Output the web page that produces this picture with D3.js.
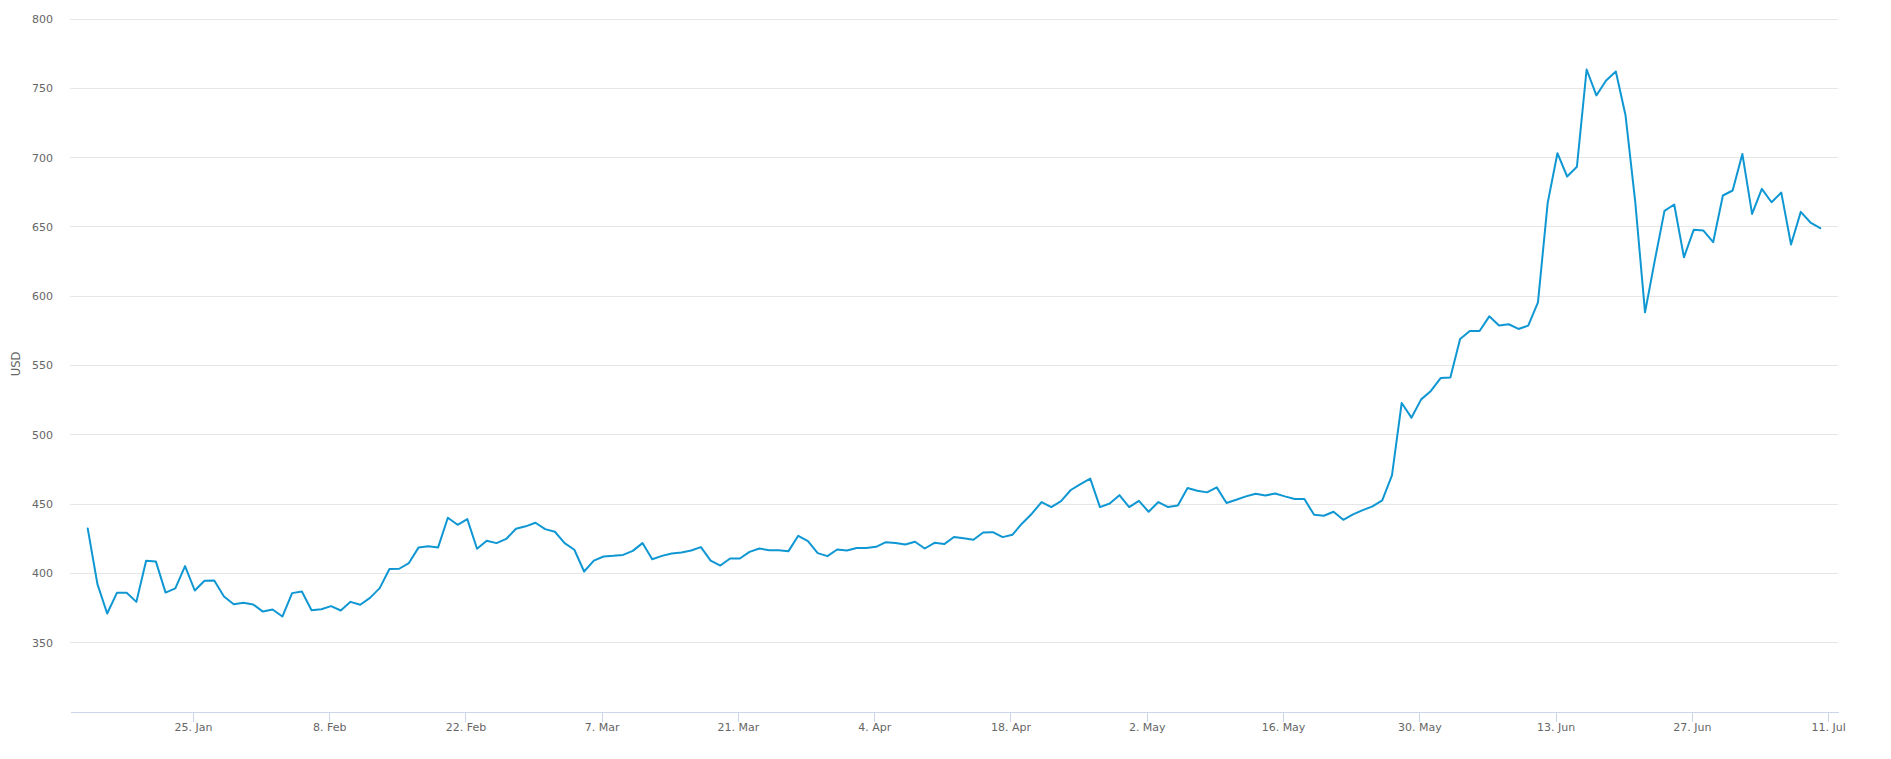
<!DOCTYPE html>
<html>
<head>
<meta charset="utf-8">
<script src="https://cdn.jsdelivr.net/npm/d3@7"></script>
<style>
  html, body { margin: 0; padding: 0; background: #fff; }
  svg { display: block; }
  text { font-family: "DejaVu Sans", Verdana, sans-serif; }
</style>
</head>
<body>
<svg id="chart" width="1891" height="759"></svg>
<script>
// ---- data ----
const seriesStart = "2016-01-14T04:40:00Z";   // first daily observation
const prices = [
  432.1, 391.9, 370.7, 385.6, 385.6, 379.1, 408.7, 408.3, 385.8, 388.8,
  404.9, 387.3, 394.3, 394.5, 383.0, 377.4, 378.4, 377.2, 372.1, 373.6,
  368.5, 385.4, 386.6, 373.1, 373.8, 376.0, 372.9, 379.1, 377.0, 382.0,
  389.0, 402.8, 403.0, 407.1, 418.4, 419.3, 418.4, 439.8, 434.7, 438.8,
  417.4, 423.2, 421.5, 424.5, 431.9, 433.6, 436.2, 431.6, 429.7, 421.5,
  416.7, 401.0, 408.9, 411.8, 412.3, 413.0, 415.9, 421.5, 409.9, 412.3,
  414.0, 414.7, 416.2, 418.6, 408.9, 405.3, 410.4, 410.4, 415.2, 417.6,
  416.4, 416.4, 415.7, 426.8, 422.9, 414.3, 412.1, 416.9, 416.2, 417.9,
  417.9, 418.8, 422.2, 421.5, 420.5, 422.5, 417.6, 421.7, 420.8, 425.9,
  425.0, 423.9, 429.2, 429.4, 425.8, 427.5, 435.7, 442.7, 451.1, 447.5,
  451.8, 459.8, 464.1, 468.0, 447.5, 450.1, 456.1, 447.5, 452.0, 444.1,
  451.1, 447.5, 448.7, 461.2, 459.3, 458.1, 461.7, 450.4, 452.8, 455.2,
  457.1, 455.9, 457.3, 455.2, 453.3, 453.3, 441.9, 441.2, 444.1, 438.3,
  442.2, 445.3, 448.0, 452.3, 470.3, 522.6, 512.0, 525.2, 531.3, 540.6,
  540.9, 568.8, 574.5, 574.5, 585.1, 578.5, 579.4, 576.0, 578.4, 595.2,
  667.0, 702.8, 686.0, 693.0, 763.2, 744.5, 755.3, 761.8, 730.0, 667.4,
  588.0, 625.3, 661.2, 665.8, 627.7, 647.5, 647.0, 638.6, 672.3, 675.9,
  702.3, 659.0, 677.1, 667.4, 674.4, 636.9, 660.5, 652.8, 648.7
];
const xTickDates = ["2016-01-25", "2016-02-08", "2016-02-22", "2016-03-07", "2016-03-21",
  "2016-04-04", "2016-04-18", "2016-05-02", "2016-05-16", "2016-05-30",
  "2016-06-13", "2016-06-27", "2016-07-11"];
const yTicks = [350, 400, 450, 500, 550, 600, 650, 700, 750, 800];
const yTitle = "USD";

// ---- build ----
const start = new Date(seriesStart);
const data = prices.map((v, i) => ({ date: d3.utcDay.offset(start, i), value: v }));

const svg = d3.select("#chart");
const plotL = 70, plotR = 1838, plotT = 18.5, plotB = 711.5;

const x = d3.scaleUtc()
  .domain([new Date("2016-01-12T09:00:00Z"), new Date("2016-07-12T00:30:00Z")])
  .range([plotL, plotR]);
const y = d3.scaleLinear().domain([300, 800]).range([plotB, plotT]);

// y axis with gridlines
const gy = svg.append("g")
  .attr("transform", `translate(${plotL},0)`)
  .call(d3.axisLeft(y).tickValues(yTicks).tickSize(-(plotR - plotL)).tickPadding(17));
gy.select(".domain").remove();
gy.selectAll(".tick line").attr("stroke", "#e6e6e6").attr("shape-rendering", "crispEdges");
gy.selectAll(".tick text")
  .attr("fill", "#666666").attr("font-size", "11px").attr("dy", "0.36em")
  .style("font-family", '"DejaVu Sans", Verdana, sans-serif');

// y title
svg.append("text")
  .attr("transform", `translate(16,364) rotate(-90)`)
  .attr("text-anchor", "middle")
  .attr("dominant-baseline", "middle")
  .attr("fill", "#666666")
  .attr("font-size", "11.5px")
  .text(yTitle);

// x axis
const fmt = d3.utcFormat("%-d. %b");
const gx = svg.append("g")
  .attr("transform", `translate(0,${plotB})`)
  .call(d3.axisBottom(x)
    .tickValues(xTickDates.map(s => new Date(s + "T00:00:00Z")))
    .tickFormat(fmt)
    .tickSize(10).tickSizeOuter(0).tickPadding(2));
gx.select(".domain").attr("stroke", "#ccd6eb").attr("shape-rendering", "crispEdges");
gx.selectAll(".tick line").attr("stroke", "#ccd6eb").attr("shape-rendering", "crispEdges");
gx.selectAll(".tick text")
  .attr("fill", "#666666").attr("font-size", "11px")
  .style("font-family", '"DejaVu Sans", Verdana, sans-serif');

// line
const line = d3.line().x(d => x(d.date)).y(d => y(d.value));
svg.append("path")
  .datum(data)
  .attr("d", line)
  .attr("fill", "none")
  .attr("stroke", "#0f97d3")
  .attr("stroke-width", 2)
  .attr("stroke-linejoin", "round")
  .attr("stroke-linecap", "round");
</script>
</body>
</html>
